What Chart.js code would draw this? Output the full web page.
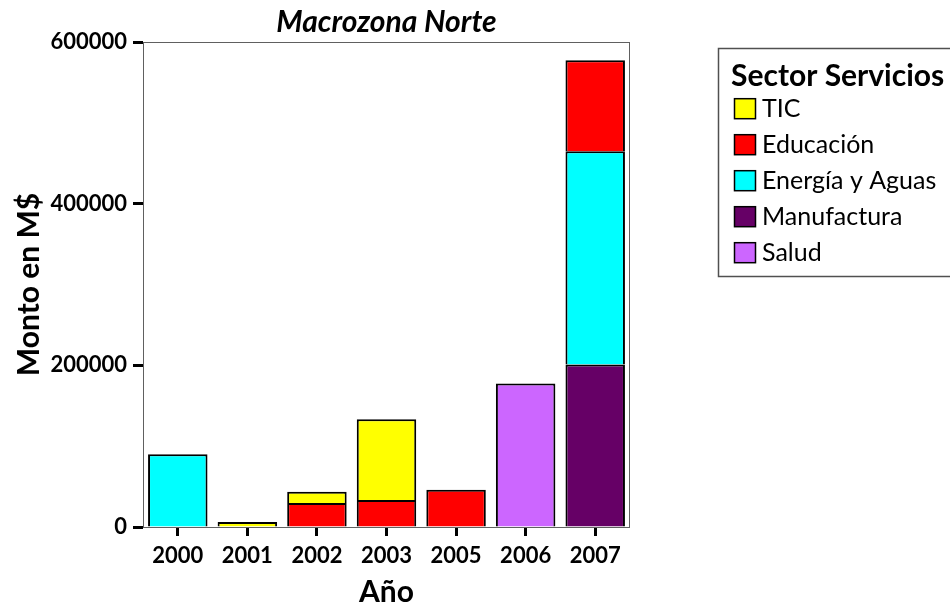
<!DOCTYPE html>
<html>
<head>
<meta charset="utf-8">
<script src="https://cdn.jsdelivr.net/npm/chart.js@4.4.1/dist/chart.umd.min.js"></script>
<style>
  html, body { margin: 0; padding: 0; background: #fff; }
  #wrap { width: 950px; height: 610px; }
</style>
</head>
<body>
<div id="wrap"><canvas id="c" width="950" height="610"></canvas></div>
<script>
// ---- data ----
const years = ['2000', '2001', '2002', '2003', '2005', '2006', '2007'];
const tic         = [null, 6200, 14000, 100000, null, null, null];
const educacion   = [null, null, 29700, 33400, 46200, null, 112300];
const energia     = [90000, null, null, null, null, null, 264000];
const manufactura = [null, null, null, null, null, null, 201000];
const salud       = [null, null, null, null, null, 177500, null];
const yTicks = [0, 200000, 400000, 600000];

const chartTitle = 'Macrozona Norte';
const xTitle = 'Año';
const yTitle = 'Monto en M$';
const legendTitle = 'Sector Servicios';

const FONT = 'Lato';

// stacking order: bottom first
const datasets = [
  { label: 'Salud', data: salud, backgroundColor: '#CC66FF' },
  { label: 'Manufactura', data: manufactura, backgroundColor: '#660066' },
  { label: 'Energía y Aguas', data: energia, backgroundColor: '#00FFFF' },
  { label: 'Educación', data: educacion, backgroundColor: '#FF0000' },
  { label: 'TIC', data: tic, backgroundColor: '#FFFF00' }
].map(d => Object.assign(d, {
  borderColor: '#000',
  borderWidth: 2,
  borderSkipped: 'start',
  barPercentage: 0.855,
  categoryPercentage: 1.0
}));

const framePlugin = {
  id: 'frame',
  beforeDatasetsDraw(chart) {
    const a = chart.chartArea, ctx = chart.ctx;
    ctx.save();
    ctx.strokeStyle = '#606060';
    ctx.lineWidth = 1;
    ctx.strokeRect(Math.round(a.left) + 0.5, Math.round(a.top) + 0.5,
                   Math.round(a.right - a.left) - 1, Math.round(a.bottom - a.top));
    ctx.restore();
  }
};

const legendPlugin = {
  id: 'boxLegend',
  afterDraw(chart) {
    const ctx = chart.ctx;
    ctx.save();
    ctx.strokeStyle = '#505050';
    ctx.lineWidth = 1.5;
    ctx.strokeRect(718.5, 48.5, 260, 228);
    ctx.fillStyle = '#000';
    ctx.textBaseline = 'alphabetic';
    ctx.textAlign = 'left';
    ctx.font = 'bold 30px ' + FONT;
    ctx.fillText(legendTitle, 731, 86);
    const items = chart.data.datasets.slice().reverse();
    ctx.font = '25px ' + FONT;
    items.forEach((d, i) => {
      const cy = 108.7 + i * 36;
      ctx.fillStyle = d.backgroundColor;
      ctx.fillRect(734.5, cy - 10, 21, 20);
      ctx.strokeStyle = '#000';
      ctx.lineWidth = 1.5;
      ctx.strokeRect(734.5, cy - 10, 21, 20);
      ctx.fillStyle = '#000';
      ctx.textBaseline = 'middle';
      ctx.fillText(d.label, 762, cy);
    });
    ctx.restore();
  }
};

new Chart(document.getElementById('c'), {
  type: 'bar',
  data: { labels: years, datasets },
  options: {
    responsive: false,
    devicePixelRatio: 1,
    animation: false,
    events: [],
    layout: { padding: { left: 0, right: 320, top: 0, bottom: 0 } },
    plugins: {
      legend: { display: false },
      tooltip: { enabled: false },
      title: {
        display: true,
        fullSize: false,
        text: chartTitle,
        color: '#000',
        font: { family: FONT, size: 30, weight: 'bold', style: 'italic', lineHeight: 1.2 },
        padding: { top: 4.3, bottom: 1.7 }
      }
    },
    scales: {
      x: {
        stacked: true,
        offset: true,
        grid: { display: true, drawOnChartArea: false, drawTicks: true, offset: false,
                tickLength: 9, tickWidth: 3, tickColor: '#000' },
        border: { display: false },
        ticks: { color: '#000', padding: 7, font: { family: FONT, size: 22, weight: 'bold' }, maxRotation: 0 },
        title: { display: true, text: xTitle, color: '#000', padding: { top: 0, bottom: 0 },
                 font: { family: FONT, size: 30, weight: 'bold', lineHeight: 1.2 } },
        afterFit(s) { s.height = 83; }
      },
      y: {
        stacked: true,
        min: 0,
        max: 600000,
        afterBuildTicks(s) { s.ticks = yTicks.map(v => ({ value: v })); },
        grid: { display: true, drawOnChartArea: false, drawTicks: true,
                tickLength: 10, tickWidth: 3, tickColor: '#000' },
        border: { display: false },
        ticks: { color: '#000', padding: 6, font: { family: FONT, size: 22, weight: 'bold' },
                 callback: v => String(v) },
        title: { display: true, text: yTitle, color: '#000', padding: { top: 11, bottom: 0 },
                 font: { family: FONT, size: 30, weight: 'bold', lineHeight: 1.2 } },
        afterFit(s) { s.width = 143; }
      }
    }
  },
  plugins: [framePlugin, legendPlugin]
});
</script>
</body>
</html>
